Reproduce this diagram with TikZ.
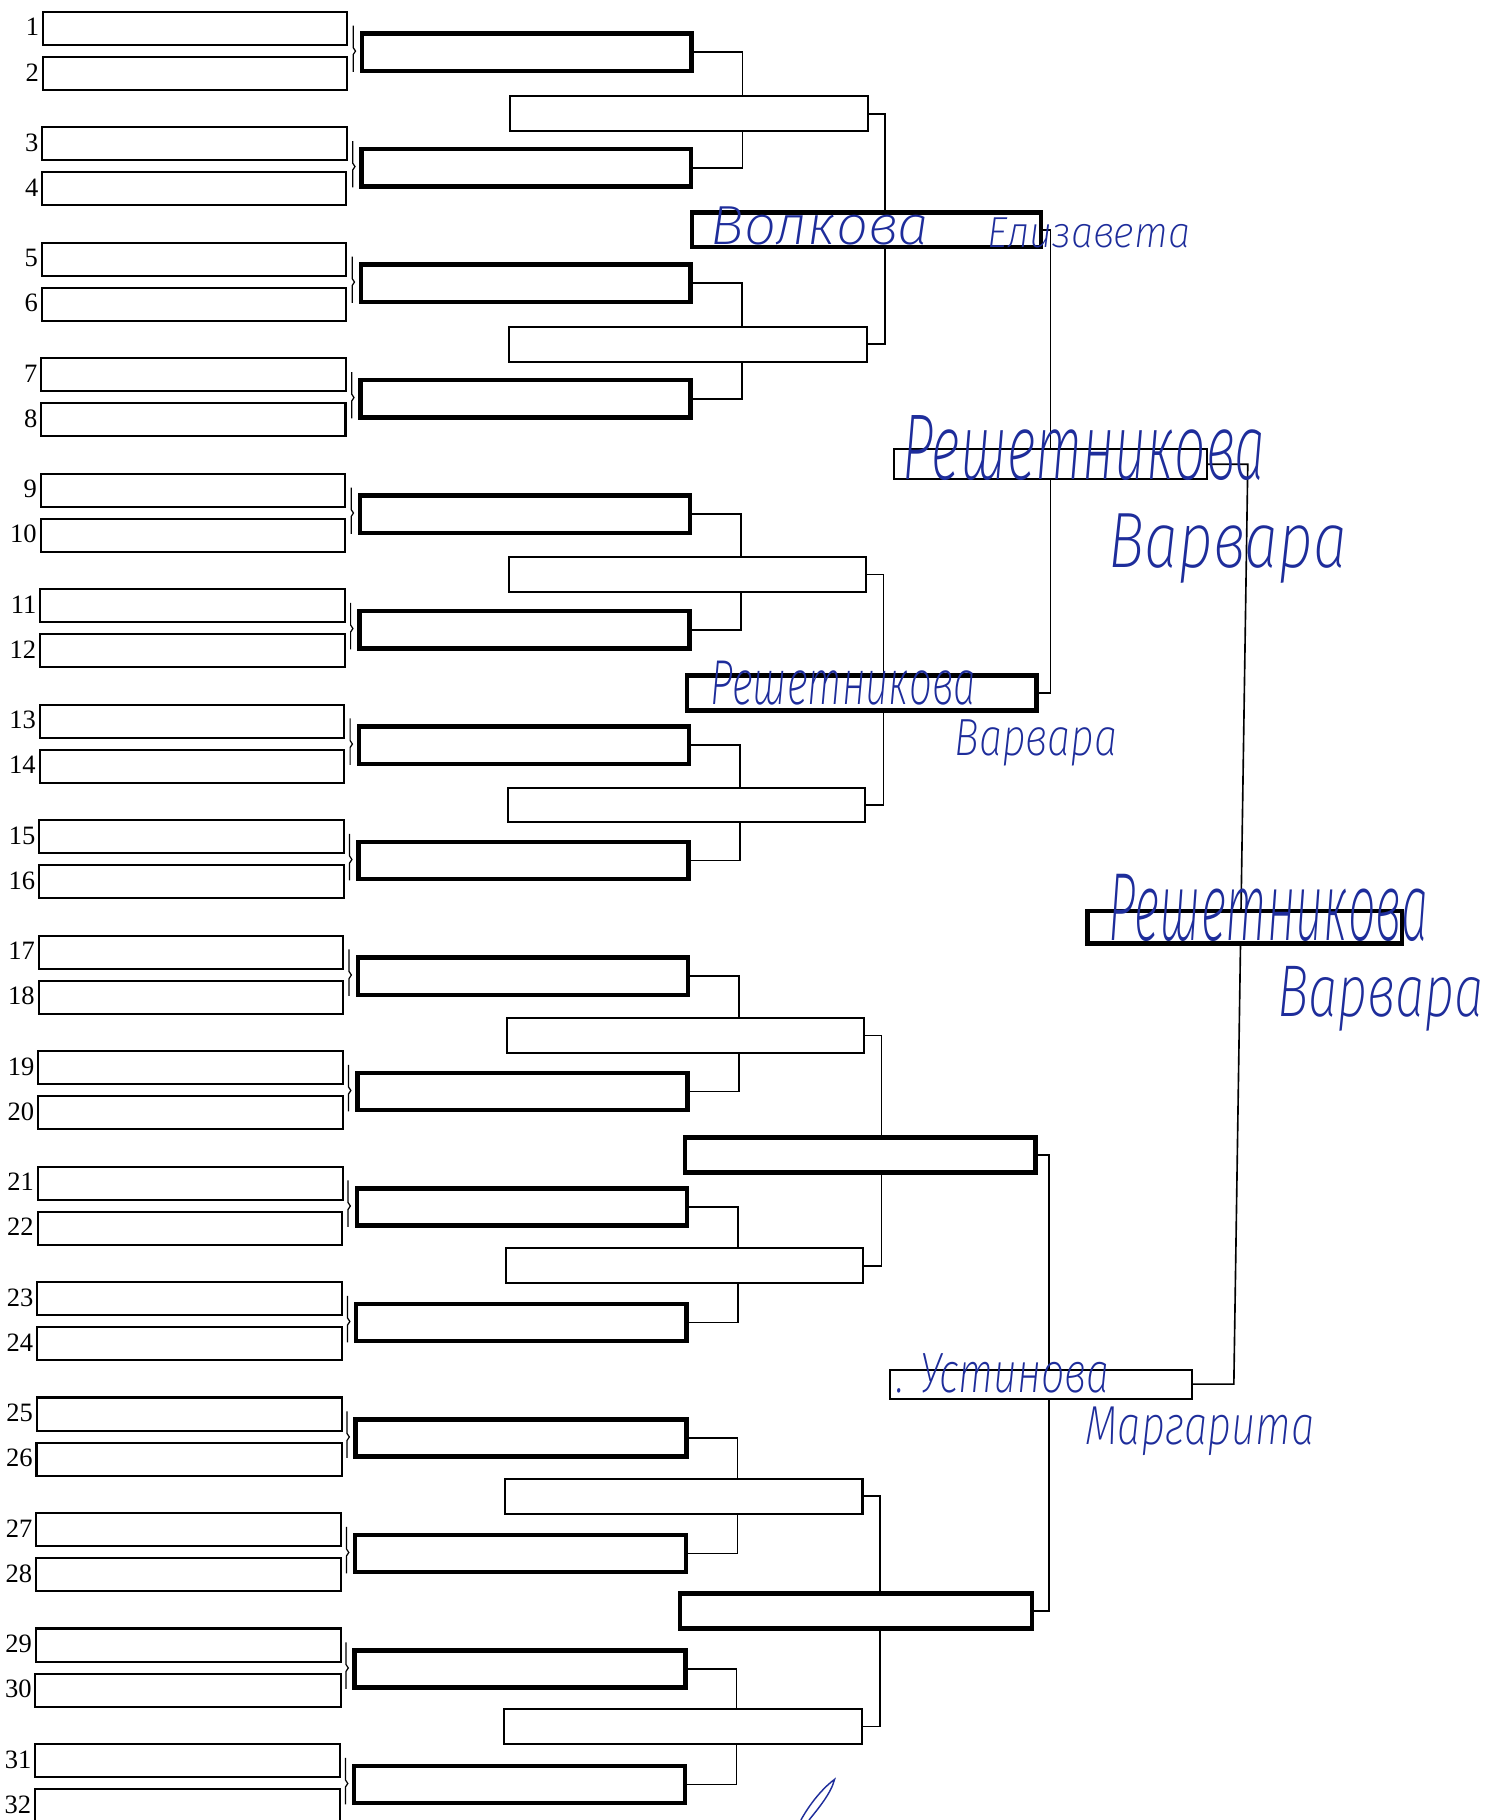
\documentclass[tikz,border=0pt]{standalone}
\usepackage{fontspec}
\setmainfont{Liberation Serif}
\newfontfamily\handfont{Fira Sans ExtraLight Italic}
\usetikzlibrary{fit}
\definecolor{ink}{RGB}{30,45,155}
\newlength\hwu \setlength\hwu{0.02cm}
\pgfdeclarelayer{paper}\pgfdeclarelayer{wires}\pgfsetlayers{paper,wires,main}
\newcommand\hw[6]{\node[hand] (#1) at (#2,#3) {\resizebox*{#4\hwu}{#5\hwu}{\handfont #6}};}
\begin{document}
\begin{tikzpicture}[x=0.02cm,y=-0.02cm,
  bx/.style={draw=black, fill=white, inner sep=0pt, outer sep=0pt},
  ronebox/.style={bx, line width=1.0pt},
  thickbox/.style={bx, line width=2.2pt},
  thinbox/.style={bx, line width=1.0pt},
  conn/.style={draw=black, line width=0.8pt},
  brmark/.style={draw=black, line width=0.6pt},
  num/.style={font=\fontsize{13}{13}\selectfont, inner sep=0pt, anchor=east},
  hand/.style={text=ink, inner sep=0pt, anchor=north west}]
\begin{pgfonlayer}{paper}
  \fill[white] (0,0) rectangle (1283,1568);
\end{pgfonlayer}
\useasboundingbox (0,0) rectangle (1283,1568);

% round 1
\foreach \i in {1,...,32} {
  \pgfmathsetmacro\kk{int((\i+1)/2)}
  \pgfmathsetmacro\yt{10+(\kk-1)*99.5+mod(\i+1,2)*39}
  \pgfmathsetmacro\yb{\yt+28.5}
  \pgfmathsetmacro\xl{37-7*\yt/1568}
  \pgfmathsetmacro\xr{299-6*\yt/1568}
  \node[ronebox, fit={(\xl,\yt) (\xr,\yb)}] (a\i) {};
  \node[num] (n\i) at ([xshift=-0.06cm,yshift=0.02cm]a\i.west) {\i};
}
% round 2 and bracket marks
\foreach \k in {1,...,16} {
  \pgfmathsetmacro\yc{10+(\k-1)*99.5+35}
  \pgfmathsetmacro\yt{\yc-16}
  \pgfmathsetmacro\yb{\yc+16}
  \pgfmathsetmacro\xl{312-7*\yc/1568}
  \pgfmathsetmacro\xr{596-6*\yc/1568}
  \node[thickbox, fit={(\xl,\yt) (\xr,\yb)}] (b\k) {};
  \pgfmathsetmacro\xm{304.5-7*\yc/1568}
  \draw[brmark] (\xm,\yc-23) -- (\xm,\yc-4) -- (\xm+2,\yc-1) -- (\xm,\yc+2) -- (\xm,\yc+17);
}
% round 3
\foreach \j in {1,...,8} {
  \pgfmathsetmacro\yc{98+(\j-1)*198.5}
  \pgfmathsetmacro\yt{\yc-15}
  \pgfmathsetmacro\yb{\yc+15}
  \pgfmathsetmacro\xl{440-6*\yc/1568}
  \pgfmathsetmacro\xr{748-6*\yc/1568}
  \node[thinbox, fit={(\xl,\yt) (\xr,\yb)}] (c\j) {};
}
% round 4
\node[thickbox, fit={(596,183) (897,213)}] (d1) {};
\node[thickbox, fit={(592,582) (893,612)}] (d2) {};
\node[thickbox, fit={(590,980) (892,1010)}] (d3) {};
\node[thickbox, fit={(586,1373) (889,1403)}] (d4) {};
% round 5
\node[thinbox, fit={(770,387) (1040,413)}] (e1) {};
\node[thinbox, fit={(767,1180) (1027,1205)}] (e2) {};
% final
\node[thickbox, fit={(937,785) (1208,813)}] (f1) {};

% connectors
\begin{pgfonlayer}{wires}
\foreach \m in {1,...,8} {
  \pgfmathtruncatemacro\p{2*\m-1}
  \pgfmathtruncatemacro\q{2*\m}
  \draw[conn] (b\p.east) -- ++(44,0) |- (b\q.east);
}
\foreach \m in {1,...,4} {
  \pgfmathtruncatemacro\p{2*\m-1}
  \pgfmathtruncatemacro\q{2*\m}
  \draw[conn] (c\p.east) -- ++(15,0) |- (c\q.east);
}
\draw[conn] (d1.east) -- ++(8,0) |- (d2.east);
\draw[conn] (d3.east) -- ++(12,0) |- (d4.east);
\draw[conn] (e1.east) -- ++(35,0) -- ([xshift=0.72cm]e2.east) -- (e2.east);
\end{pgfonlayer}

% handwriting
\hw{hw1}{612}{178}{188}{33}{Волкова}
\hw{hw2}{850}{187}{175}{26}{Елизавета}
\hw{hw3}{777}{358}{313}{56}{Решетникова}
\hw{hw4}{955}{442}{205}{60}{Варвара}
\hw{hw5}{612}{569}{228}{38}{Решетникова}
\hw{hw6}{822}{620}{140}{40}{Варвара}
\hw{hw7}{955}{753}{275}{58}{Решетникова}
\hw{hw8}{1100}{832}{178}{56}{Варвара}
\hw{hw9}{772}{1166}{183}{34}{. Устинова}
\hw{hw10}{935}{1212}{197}{42}{Маргарита}
\draw[ink, line width=0.7pt] (690,1568) .. controls (700,1550) and (712,1538) .. (719,1533) .. controls (716,1545) and (705,1558) .. (697,1568);
\end{tikzpicture}
\end{document}
